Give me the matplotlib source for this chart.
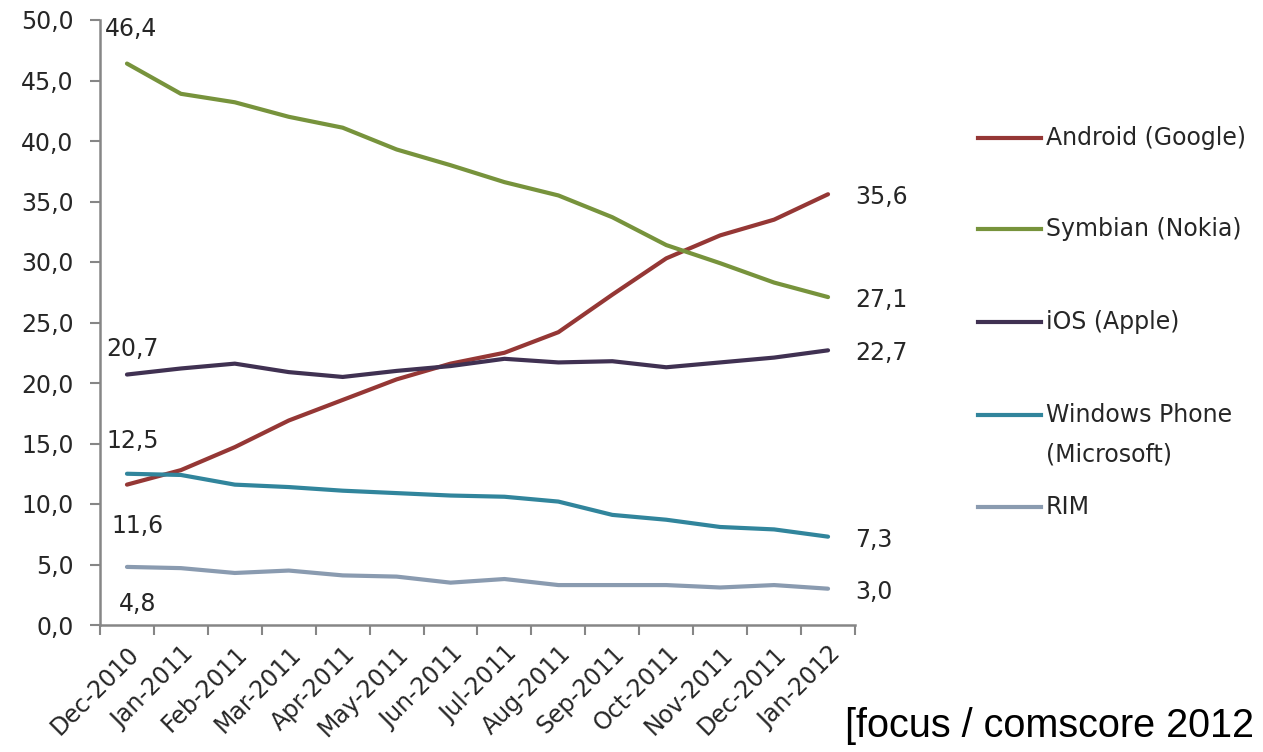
import matplotlib
matplotlib.use('Agg')
import matplotlib.pyplot as plt
from matplotlib.lines import Line2D

months = ['Dec-2010', 'Jan-2011', 'Feb-2011', 'Mar-2011', 'Apr-2011', 'May-2011', 'Jun-2011',
          'Jul-2011', 'Aug-2011', 'Sep-2011', 'Oct-2011', 'Nov-2011', 'Dec-2011', 'Jan-2012']

android = [11.6, 12.8, 14.7, 16.9, 18.6, 20.3, 21.6, 22.5, 24.2, 27.3, 30.3, 32.2, 33.5, 35.6]
symbian = [46.4, 43.9, 43.2, 42.0, 41.1, 39.3, 38.0, 36.6, 35.5, 33.7, 31.4, 29.9, 28.3, 27.1]
ios = [20.7, 21.2, 21.6, 20.9, 20.5, 21.0, 21.4, 22.0, 21.7, 21.8, 21.3, 21.7, 22.1, 22.7]
windows = [12.5, 12.4, 11.6, 11.4, 11.1, 10.9, 10.7, 10.6, 10.2, 9.1, 8.7, 8.1, 7.9, 7.3]
rim = [4.8, 4.7, 4.3, 4.5, 4.1, 4.0, 3.5, 3.8, 3.3, 3.3, 3.3, 3.1, 3.3, 3.0]

series = [android, symbian, ios, windows, rim]
labels = ['Android (Google)', 'Symbian (Nokia)', 'iOS (Apple)', 'Windows Phone\n(Microsoft)', 'RIM']
colors = ['#953735', '#77933c', '#403152', '#31859c', '#8a9bb0']

yticks = [0, 5, 10, 15, 20, 25, 30, 35, 40, 45, 50]
source = '[focus / comscore 2012'

W, H = 1263, 752
plt.rcParams['font.family'] = ['DejaVu Sans']
fig = plt.figure(figsize=(W / 100, H / 100), dpi=100)
ax = fig.add_axes([100 / W, 1 - 625 / H, 755 / W, 605 / H])

x = list(range(len(months)))
for vals, col in zip(series, colors):
    ax.plot(x, vals, color=col, linewidth=3.0, solid_capstyle='round', solid_joinstyle='round')


def fmt(v):
    return f'{v:.1f}'.replace('.', ',')


# start labels (offsets in pixels, Excel-like placement)
start_offsets = [(11, -41), (4, 35), (5, 26), (6, 33), (11, -37)]
for vals, off in zip(series, start_offsets):
    ax.annotate(fmt(vals[0]), (0, vals[0]), xytext=off, textcoords='offset pixels',
                ha='center', va='center', fontsize=17, color='#262626')
# end labels
for vals in series:
    ax.annotate(fmt(vals[-1]), (len(months) - 1, vals[-1]), xytext=(27, -3), textcoords='offset pixels',
                ha='left', va='center', fontsize=17, color='#262626')

ax.set_xlim(-0.5, len(months) - 0.5)
ax.set_ylim(0, 50)
ax.set_yticks(yticks)
ax.set_yticklabels([fmt(v) for v in yticks])
ax.set_xticks(x)
ax.set_xticklabels(months, rotation=45, ha='right', va='top', rotation_mode='anchor')
ax.set_xticks([i - 0.5 for i in range(len(months) + 1)], minor=True)
ax.tick_params(axis='x', which='major', length=0, pad=12, labelsize=17, labelcolor='#262626')
ax.tick_params(axis='x', which='minor', length=7, width=1.5, color='#868686', direction='out')
ax.tick_params(axis='y', length=7, width=1.5, color='#868686', pad=12, labelsize=17, labelcolor='#262626')
for s in ['top', 'right']:
    ax.spines[s].set_visible(False)
for s in ['left', 'bottom']:
    ax.spines[s].set_color('#868686')
    ax.spines[s].set_linewidth(1.8)

# legend on the right
leg_y = [138, 229, 322, 415, 507]
for lab, col, py in zip(labels, colors, leg_y):
    fy = 1 - py / H
    fig.add_artist(Line2D([978 / W, 1041 / W], [fy, fy], color=col, linewidth=3.0))
    lines = lab.split('\n')
    for k, line in enumerate(lines):
        fig.text(1046 / W, 1 - (py + 40 * k) / H, line, ha='left', va='center',
                 fontsize=17, color='#262626')

fig.text(845 / W, 1 - 737 / H, source, ha='left', va='baseline', fontsize=28.5,
         family='Liberation Sans', color='black')

fig.savefig('out.png', dpi=100)
